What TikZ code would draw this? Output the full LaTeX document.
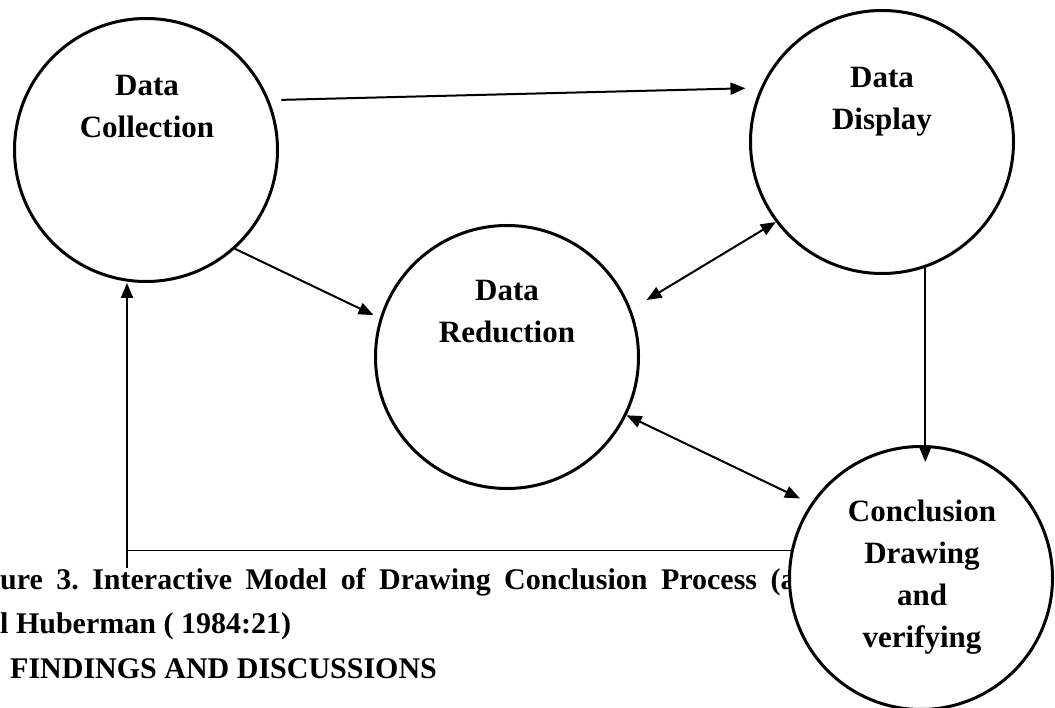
\documentclass[tikz,border=0pt]{standalone}
\usepackage{fontspec}
\setmainfont{Liberation Serif}
\usetikzlibrary{arrows.meta,calc}
\begin{document}
\begin{tikzpicture}[x=1pt,y=1pt,
  stage/.style={circle, draw, line width=3pt, fill=white, minimum size=263pt, inner sep=0pt},
  lbl/.style={font=\fontsize{31}{42}\selectfont\bfseries, align=center, inner sep=0pt},
  captxt/.style={font=\fontsize{30}{44}\selectfont\bfseries, inner sep=0pt, anchor=base west},
  tipa/.style={-{Triangle[length=15pt,width=12pt]}},
  flow/.style={line width=2pt, tipa},
  both/.style={line width=2pt, {Triangle[length=15pt,width=12pt]}-{Triangle[length=15pt,width=12pt]}}]
\useasboundingbox (0,0) rectangle (1055,707);

% caption lines of the figure
\node[captxt] (cap1) at (0,117)
  {\spaceskip=.25em plus 1fil\xspaceskip=\spaceskip
   \hbox to 812pt{ure 3. Interactive Model of Drawing Conclusion Process (ad}};
\node[captxt] (cap2) at (0,73) {l Huberman ( 1984:21)};
\node[captxt] (cap3) at (10,29) {FINDINGS AND DISCUSSIONS};

% the four stages
\node[stage] (coll) at (146,557) {};
\node[stage] (disp) at (882,565) {};
\node[stage] (red)  at (507,350) {};
\node[stage] (conc) at (921,129) {};

\node[lbl] (tcoll) at (147,600) {Data\\Collection};
\node[lbl] (tdisp) at (882,605) {Data\\Display};
\node[lbl] (tred)  at (507,395) {Data\\Reduction};
\node[lbl] (tconc) at (922,130) {Conclusion\\Drawing\\and\\verifying};

% flows between stages
\draw[flow, shorten <=12pt, shorten >=15pt] (coll.22) -- (disp.156);
\draw[flow, shorten >=7pt] (coll.-48) -- (red.163);
\draw[both, shorten <=18pt] (red.21) -- (disp.217);
\draw[both, shorten >=12pt] (red.-26) -- (conc.146);
\draw[flow, shorten >=-17pt] (disp.-71) -- (disp.-71 |- conc.north);

% feedback loop back to data collection
\coordinate (fb) at (127,139);
\draw[line width=1.3pt] (conc.168) -- (conc.168 -| fb);
\draw[flow] (fb) -- (fb |- coll.south);
\end{tikzpicture}
\end{document}
